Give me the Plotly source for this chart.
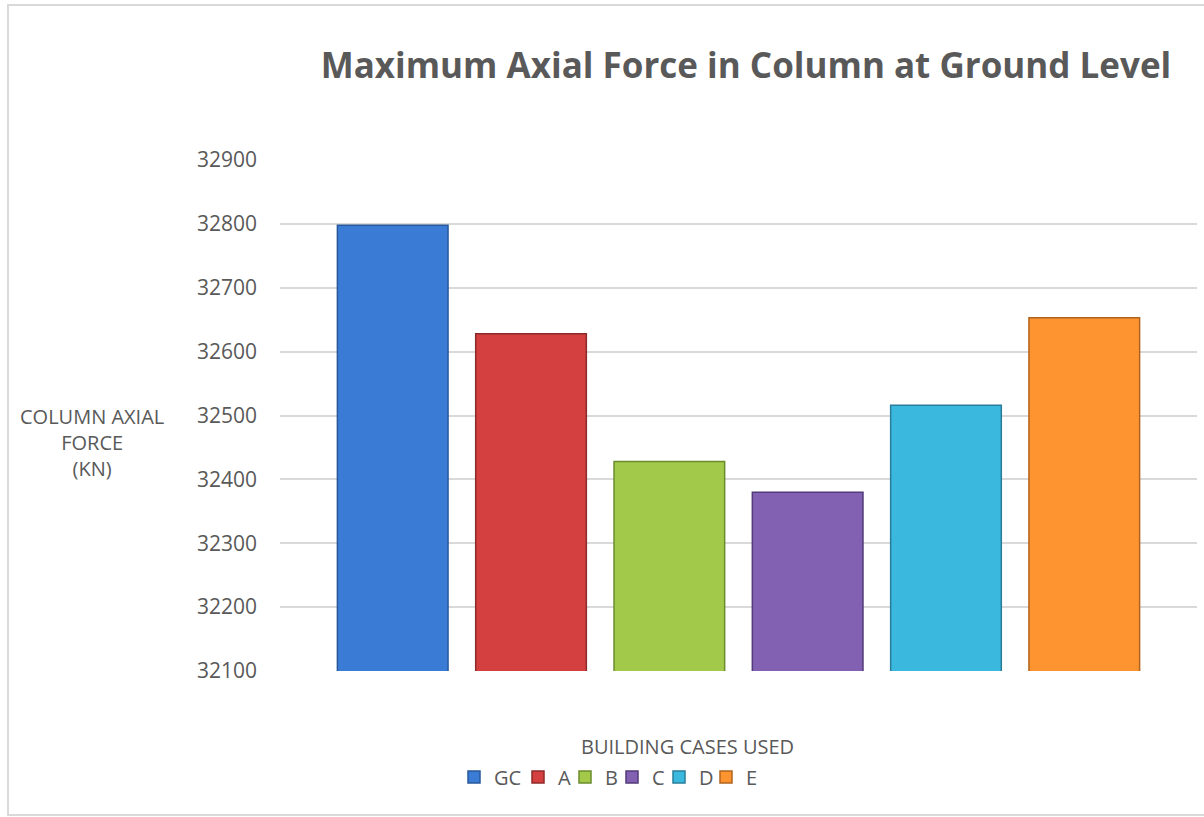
import plotly.graph_objects as go

cases = ["GC", "A", "B", "C", "D", "E"]
axial_force = [32798, 32628, 32428, 32380, 32516, 32653]
fill_colors = ["#3A7BD5", "#D43F3F", "#A2C94A", "#8260B2", "#3BB8DD", "#FD9430"]
edge_colors = ["#28589A", "#8E2A2A", "#6B8C2C", "#533A7A", "#287E9A", "#B0631C"]
y_ticks = [32100, 32200, 32300, 32400, 32500, 32600, 32700, 32800, 32900]
group_label = ["BUILDING CASES USED"]
legend_square_x = [474, 538, 585, 632, 679, 726]  # pixel x of legend entries

TXT = "#595959"
FONT = "Open Sans"

W, H = 1204, 817
L, R, T, B = 280, 1204 - 1197, 160, 817 - 671
pw, ph = W - L - R, H - T - B


def px(x):
    return (x - L) / pw


def py(y):
    return (H - B - y) / ph


fig = go.Figure()
legend_layouts = {}
for i, (name, val, fc, ec) in enumerate(zip(cases, axial_force, fill_colors, edge_colors)):
    lname = "legend" if i == 0 else f"legend{i + 1}"
    fig.add_trace(go.Bar(
        x=group_label, y=[val], name=name,
        marker=dict(color=fc, line=dict(color=ec, width=1.5)),
        legend=lname,
    ))
    legend_layouts[lname] = dict(
        orientation="h", x=px(legend_square_x[i] - 20), xanchor="left",
        y=py(777), yanchor="middle", itemwidth=30,
        font=dict(family=FONT, size=20, color=TXT),
        bgcolor="rgba(0,0,0,0)", borderwidth=0,
    )

border_path = (f"M {px(1260)},{py(5)} L {px(8)},{py(5)} "
               f"L {px(8)},{py(815)} L {px(1260)},{py(815)}")

fig.update_layout(
    width=W, height=H,
    margin=dict(l=L, r=R, t=T, b=B, pad=0),
    paper_bgcolor="white", plot_bgcolor="white",
    barmode="group", bargap=0.095, bargroupgap=0.2,
    font=dict(family=FONT, color=TXT, size=18),
    title=dict(text="<b>Maximum Axial Force in Column at Ground Level</b>",
               x=746 / W, xanchor="center", y=1 - 66 / H, yanchor="middle",
               font=dict(family=FONT, size=35, color=TXT)),
    xaxis=dict(showticklabels=False, showgrid=False, zeroline=False,
               showline=False, ticks=""),
    yaxis=dict(range=[y_ticks[0], y_ticks[-1]], tickvals=y_ticks,
               tickformat="d",
               showgrid=True, gridcolor="#D9D9D9", gridwidth=1.5,
               zeroline=False, showline=False, ticks="",
               ticklabelstandoff=22,
               tickfont=dict(family=FONT, size=21, color=TXT)),
    showlegend=True,
    annotations=[
        dict(text="COLUMN AXIAL<br>FORCE<br>(KN)", xref="paper", yref="paper",
             x=px(92), y=py(442), xanchor="center", yanchor="middle",
             showarrow=False, align="center",
             font=dict(family=FONT, size=20, color=TXT)),
        dict(text=group_label[0], xref="paper", yref="paper",
             x=px(687), y=py(746), xanchor="center", yanchor="middle",
             showarrow=False, font=dict(family=FONT, size=20, color=TXT)),
    ],
    shapes=[
        dict(type="path", xref="paper", yref="paper", path=border_path,
             line=dict(color="#D9D9D9", width=2), layer="below"),
    ],
)
fig.update_layout(**legend_layouts)

fig.write_html("out.html")
